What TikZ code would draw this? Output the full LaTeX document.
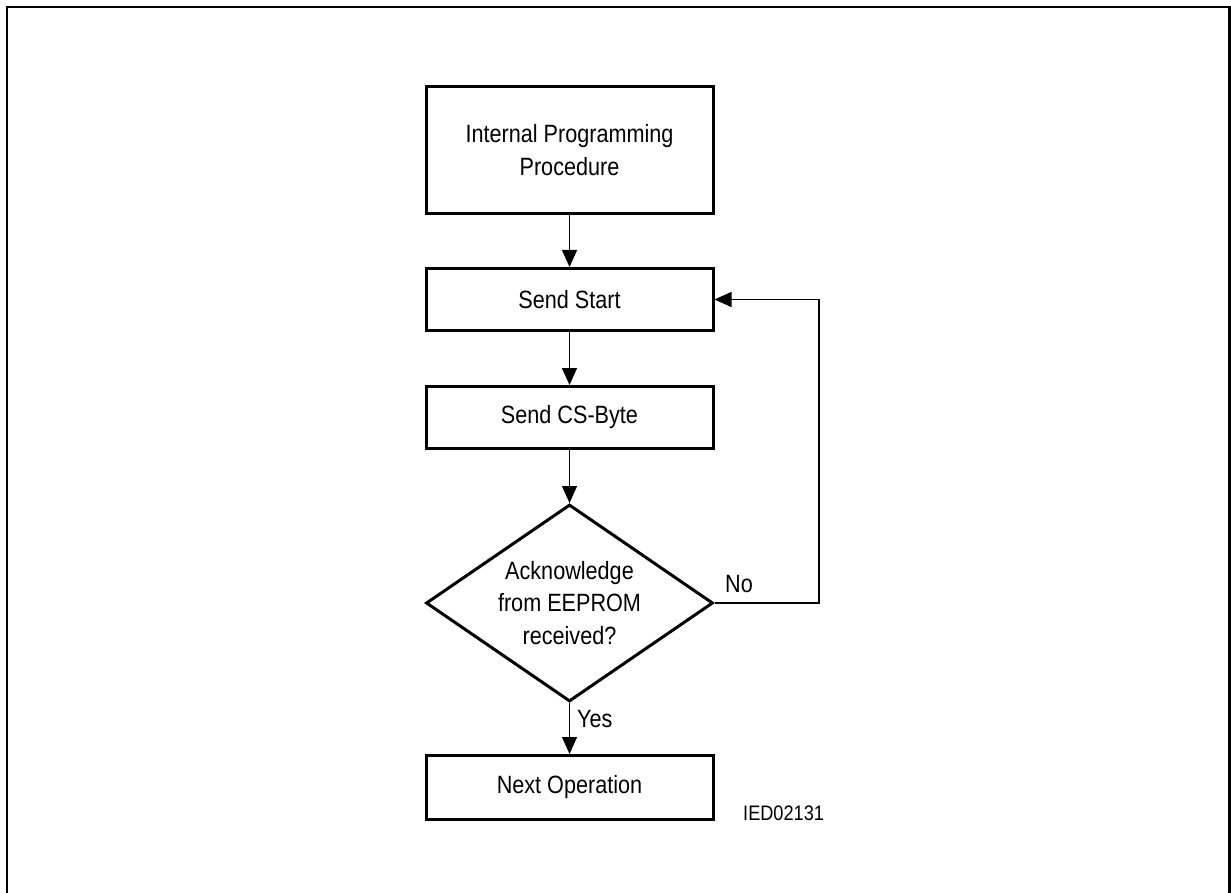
\documentclass[tikz,border=0pt]{standalone}
\usepackage{fontspec}
\setmainfont{Liberation Sans}[FakeStretch=0.865]
\usetikzlibrary{shapes.geometric,arrows.meta}
\begin{document}
\begin{tikzpicture}[x=1pt,y=-1pt,
  stepbox/.style={draw,line width=3pt,minimum width=287pt,inner sep=0pt,align=center,font=\fontsize{25}{33}\selectfont},
  decbox/.style={draw,diamond,line width=3pt,minimum width=287pt,minimum height=197pt,inner sep=0pt},
  txt/.style={align=center,font=\fontsize{25}{32.5}\selectfont,inner sep=0pt},
  lbl/.style={inner sep=0pt,anchor=base west,font=\fontsize{25}{30}\selectfont},
  arr/.style={line width=1.3pt,-{Triangle[width=15pt,length=17pt]}}]
\useasboundingbox (0,0) rectangle (1231,893);
\begin{scope}
\clip (0,0) rectangle (1231,893);
\draw[line width=2.5pt] (7,7.2) rectangle (1229.5,910);
\end{scope}
\node[stepbox,minimum height=127pt] (b1) at (569.5,150) {Internal Programming\\Procedure};
\node[stepbox,minimum height=62pt] (b2) at (569.5,299.5) {Send Start};
\node[stepbox,minimum height=62pt] (b3) at (569.5,417.5) {Send CS-Byte};
\node[decbox] (d) at (569.5,603) {};
\node[txt] (dt) at (d.center) {Acknowledge\\from EEPROM\\received?};
\node[stepbox,minimum height=64pt] (b4) at (569.5,787.5) {Next Operation};
\coordinate (fb) at (819,299.5);
\draw[arr] (b1.south) -- (b2.north);
\draw[arr] (b2.south) -- (b3.north);
\draw[arr] (b3.south) -- (d.north);
\draw[arr] (d.south) -- (b4.north);
\draw[arr] (d.east) -| (fb) -- (b2.east);
\node[lbl] (no) at (725,592) {No};
\node[lbl] (yes) at (577,727) {Yes};
\node[lbl,font=\fontsize{21}{25}\selectfont] (ied) at (743,820) {IED02131};
\end{tikzpicture}
\end{document}
